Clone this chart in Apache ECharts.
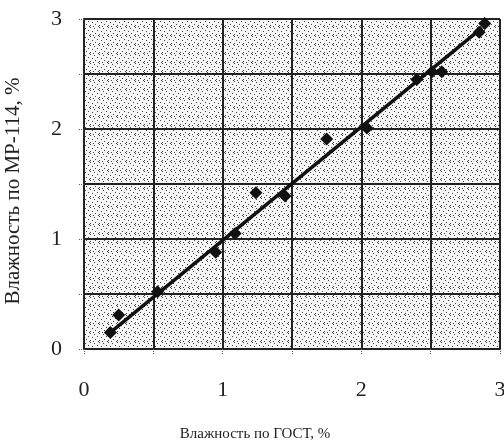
<!DOCTYPE html>
<html><head><meta charset="utf-8">
<script src="https://cdn.jsdelivr.net/npm/echarts@6/dist/echarts.min.js"></script>
<style>html,body{margin:0;padding:0;background:#fff}#c{width:504px;height:442px}</style>
</head><body><div id="c"></div>
<script>
// Data
var gostX = [0.19, 0.25, 0.53, 0.95, 1.09, 1.24, 1.45, 1.75, 2.04, 2.40, 2.51, 2.58, 2.85, 2.89];
var mrY   = [0.15, 0.31, 0.52, 0.88, 1.05, 1.42, 1.39, 1.91, 2.01, 2.45, 2.52, 2.52, 2.88, 2.96];
var fitX = [0.18, 2.87];
var fitY = [0.14, 2.92];
var xTicks = [0, 1, 2, 3];
var yTicks = [0, 1, 2, 3];
var xName = 'Влажность по ГОСТ, %';
var yName = 'Влажность по МР-114, %';

// stipple texture tile
var tile = document.createElement('canvas');
tile.width = 9; tile.height = 9;
var tc = tile.getContext('2d');
tc.fillStyle = '#f6f6f6'; tc.fillRect(0,0,9,9);
tc.fillStyle = '#444';
[[0,0],[4,1],[7,3],[2,4],[5,6],[0,7],[8,8],[3,8]].forEach(function(p){tc.fillRect(p[0],p[1],1,1);});

var pts = gostX.map(function(x,i){return [x, mrY[i]];});
var fit = fitX.map(function(x,i){return [x, fitY[i]];});
var font = '"Liberation Serif", "DejaVu Serif", serif';

var chart = echarts.init(document.getElementById('c'));
chart.setOption({
  animation: false,
  grid: {left: 84, top: 19, right: 4, bottom: 93, show: true, outerBoundsMode: 'none', containLabel: false,
         backgroundColor: {image: tile, repeat: 'repeat'}, borderColor: '#444', borderWidth: 1},
  xAxis: {
    type: 'value', min: 0, max: 3, interval: 0.5,
    name: xName, nameLocation: 'middle', nameGap: 78,
    nameTextStyle: {fontFamily: font, fontSize: 15, color: '#222', padding: [0, 74, 0, 0]},
    axisLine: {show: true, lineStyle: {color: '#222', width: 2}},
    axisTick: {show: true, length: 6, lineStyle: {color: '#555', type: 'dotted'},
               interval: function(i, v){ return xTicks.indexOf(+v) >= 0; }},
    axisLabel: {margin: 30, fontFamily: font, fontSize: 22, color: '#222',
                formatter: function(v){ return xTicks.indexOf(v) >= 0 ? String(v) : ''; }},
    splitLine: {show: true, lineStyle: {color: '#222', width: 2}}
  },
  yAxis: {
    type: 'value', min: 0, max: 3, interval: 0.5,
    name: yName, nameLocation: 'middle', nameGap: 60, nameRotate: 90,
    nameTextStyle: {fontFamily: font, fontSize: 21, color: '#222', padding: [0, 14, 0, 0]},
    axisLine: {show: true, lineStyle: {color: '#222', width: 2}},
    axisTick: {show: true, length: 5, lineStyle: {color: '#555', type: 'dotted'}},
    axisLabel: {margin: 22, fontFamily: font, fontSize: 22, color: '#222',
                formatter: function(v){ return yTicks.indexOf(v) >= 0 ? String(v) : ''; }},
    splitLine: {show: true, lineStyle: {color: '#222', width: 2}}
  },
  series: [
    {type: 'line', data: fit, showSymbol: false, symbol: 'none',
     lineStyle: {color: '#111', width: 3.5}, z: 3},
    {type: 'scatter', data: pts, symbol: 'diamond', symbolSize: 13,
     itemStyle: {color: '#111', opacity: 1}, z: 4}
  ]
});
</script></body></html>
